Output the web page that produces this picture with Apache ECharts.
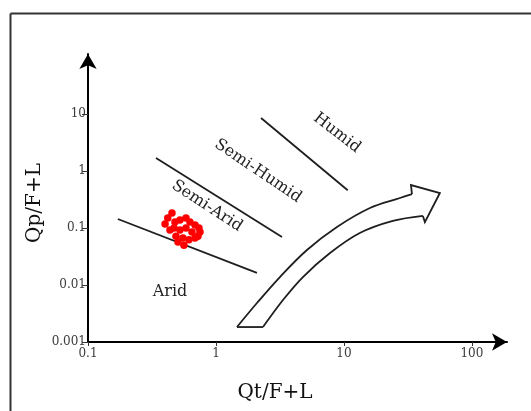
<!DOCTYPE html>
<html>
<head>
<meta charset="utf-8">
<style>
  html, body { margin: 0; padding: 0; background: #fff; }
  #chart { width: 531px; height: 411px; }
</style>
<script src="https://cdn.jsdelivr.net/npm/echarts@6/dist/echarts.min.js"></script>
</head>
<body>
<div id="chart"></div>
<script>
// sample compositions: Qt/F+L against Qp/F+L
const sampleQt = [0.453, 0.42, 0.40, 0.478, 0.523, 0.583, 0.626, 0.686, 0.736, 0.47, 0.523,
  0.583, 0.649, 0.723, 0.487, 0.552, 0.615, 0.686, 0.562, 0.505, 0.437, 0.75];
const sampleQp = [0.183, 0.150, 0.118, 0.127, 0.138, 0.150, 0.127, 0.113, 0.10, 0.10, 0.092,
  0.10, 0.085, 0.072, 0.072, 0.067, 0.062, 0.067, 0.050, 0.057, 0.092, 0.085];

const xTicks = [0.1, 1, 10, 100];
const yTicks = [0.001, 0.01, 0.1, 1, 10];

// climate field boundaries, [Qt/F+L, Qp/F+L] at each end
const aridLine = [[0.171, 0.144], [2.09, 0.0163]];
const semiAridLine = [[0.34, 1.69], [3.28, 0.0695]];
const semiHumidLine = [[2.25, 8.5], [10.7, 0.46]];

const fieldNames = ['Arid', 'Semi-Arid', 'Semi-Humid', 'Humid'];
const fieldAnchors = [[0.437, 0.00753], [0.851, 0.243], [2.13, 1.0], [8.82, 4.64]];

// big hollow trend arrow, in data units
const arrowOuter = [[1.459, 0.00183], [2.09, 0.00483], [3.16, 0.0138], [5.14, 0.0411],
  [8.82, 0.104], [15.96, 0.224], [27.4, 0.336], [34.0, 0.394]];
const arrowHead = [[33.4, 0.567], [56.2, 0.411], [42.9, 0.127]];
const arrowInner = [[41.4, 0.163], [24.1, 0.133], [13.3, 0.0816], [7.78, 0.0364],
  [4.78, 0.0138], [3.34, 0.00546], [2.33, 0.00183]];

const labelAngles = [0, -33, -34, -38];
const serif = '"DejaVu Serif", serif';
const ink = '#1e1e1e';

const chart = echarts.init(document.getElementById('chart'));

const boundary = pts => ({
  type: 'line',
  data: pts,
  showSymbol: false,
  silent: true,
  lineStyle: { color: ink, width: 1.8 },
  z: 3
});

const tickFmt = v => String(+(+v).toPrecision(6));

const axisCommon = {
  type: 'log',
  logBase: 10,
  splitLine: { show: false },
  axisLine: {
    show: true,
    onZero: false,
    symbol: ['none', 'arrow'],
    symbolSize: [13, 15],
    lineStyle: { color: '#000', width: 2 }
  }
};

chart.setOption({
  animation: false,
  grid: { left: 88, top: 54, right: 24, bottom: 69, outerBoundsMode: 'none' },
  xAxis: {
    ...axisCommon,
    min: 0.1,
    max: 188,
    axisTick: { show: true, customValues: xTicks, length: 4, lineStyle: { color: '#333' } },
    axisLabel: {
      customValues: xTicks,
      formatter: tickFmt,
      fontFamily: serif,
      fontSize: 12,
      color: '#3c3c3c',
      margin: 6
    }
  },
  yAxis: {
    ...axisCommon,
    min: 0.001,
    max: 113,
    axisTick: { show: true, customValues: yTicks, length: 6, lineStyle: { color: '#333' } },
    axisLabel: {
      customValues: yTicks,
      formatter: tickFmt,
      fontFamily: serif,
      fontSize: 12,
      color: '#3c3c3c',
      margin: 2
    }
  },
  graphic: [
    { type: 'line', shape: { x1: 10.5, y1: 13.5, x2: 531, y2: 13.5 },
      style: { stroke: '#333', lineWidth: 2 } },
    { type: 'line', shape: { x1: 10.5, y1: 13.5, x2: 10.5, y2: 411 },
      style: { stroke: '#333', lineWidth: 2 } },
    { type: 'text', x: 275, y: 393,
      style: { text: 'Qt/F+L', font: '20px ' + serif, fill: '#111', align: 'center', verticalAlign: 'middle' } },
    { type: 'text', x: 35, y: 203, rotation: Math.PI / 2,
      style: { text: 'Qp/F+L', font: '20px ' + serif, fill: '#111', align: 'center', verticalAlign: 'middle' } }
  ],
  series: [
    boundary(aridLine),
    boundary(semiAridLine),
    boundary(semiHumidLine),
    {
      type: 'custom',
      silent: true,
      data: fieldAnchors.map((p, i) => [p[0], p[1], i]),
      renderItem: (params, api) => {
        const i = api.value(2);
        const p = api.coord([api.value(0), api.value(1)]);
        return {
          type: 'text',
          x: p[0],
          y: p[1],
          rotation: labelAngles[i] * Math.PI / 180,
          style: {
            text: fieldNames[i],
            font: '16px ' + serif,
            fill: '#222',
            align: 'center',
            verticalAlign: 'middle'
          }
        };
      },
      z: 4
    },
    {
      type: 'custom',
      silent: true,
      data: [arrowOuter[0]],
      renderItem: (params, api) => {
        const px = pts => pts.map(p => api.coord(p));
        const outer = px(arrowOuter);
        const inner = px(arrowInner);
        const head = px(arrowHead);
        const style = { stroke: ink, lineWidth: 1.8, fill: null };
        return {
          type: 'group',
          children: [
            { type: 'polyline', shape: { points: outer, smooth: 0.35 }, style },
            { type: 'polyline', shape: { points: inner, smooth: 0.35 }, style },
            { type: 'polyline', shape: { points: [outer[outer.length - 1], ...head, inner[0]] }, style },
            { type: 'line', shape: { x1: outer[0][0], y1: outer[0][1], x2: inner[inner.length - 1][0], y2: inner[inner.length - 1][1] }, style }
          ]
        };
      },
      z: 3
    },
    {
      type: 'scatter',
      data: sampleQt.map((x, i) => [x, sampleQp[i]]),
      symbolSize: 7.5,
      itemStyle: { color: '#ff0000', opacity: 1 },
      z: 5
    }
  ]
});
</script>
</body>
</html>
